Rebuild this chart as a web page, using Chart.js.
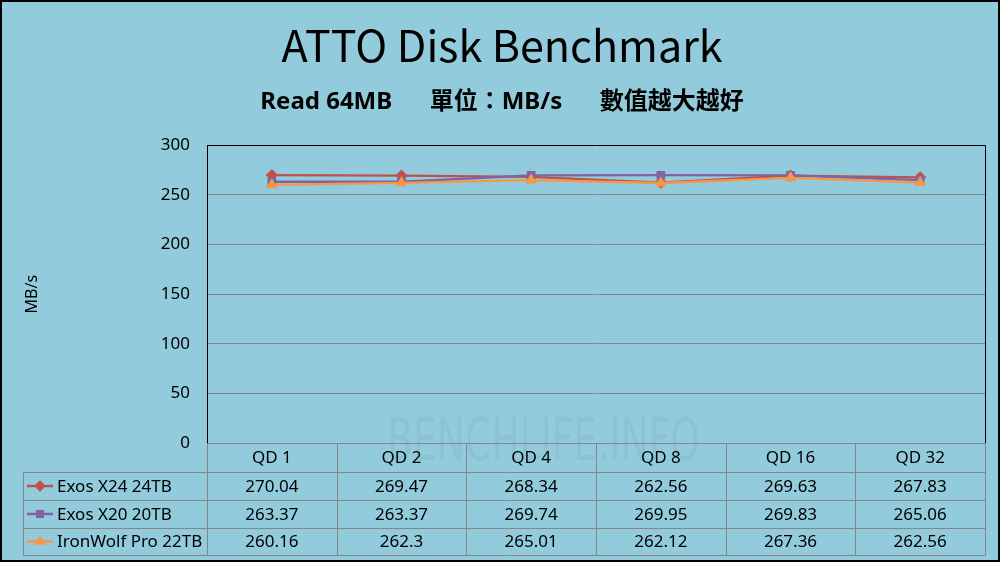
<!DOCTYPE html>
<html>
<head>
<meta charset="utf-8">
<script src="https://cdn.jsdelivr.net/npm/chart.js@4/dist/chart.umd.min.js"></script>
<style>
    html, body { margin: 0; padding: 0; background: #92CCDC; }
    canvas { display: block; }
</style>
</head>
<body>
<canvas id="atto-chart" width="1000" height="562"></canvas>
<script>
const categories = ["QD 1", "QD 2", "QD 4", "QD 8", "QD 16", "QD 32"];
const seriesNames = ["Exos X24 24TB", "Exos X20 20TB", "IronWolf Pro 22TB"];
const exosX24 = [270.04, 269.47, 268.34, 262.56, 269.63, 267.83];
const exosX20 = [263.37, 263.37, 269.74, 269.95, 269.83, 265.06];
const ironWolf = [260.16, 262.3, 265.01, 262.12, 267.36, 262.56];
const yTicks = [0, 50, 100, 150, 200, 250, 300];

const textFont = "'Noto Sans', 'Noto Sans CJK TC', sans-serif";
const cjkFont = "'Noto Sans CJK TC', 'Noto Sans', sans-serif";
const gridColor = "#868686";

// background, frame, watermark
const backgroundPlugin = {
    id: "background",
    beforeDraw: (chart) => {
        const ctx = chart.ctx;
        ctx.save();
        ctx.fillStyle = "#92CCDC";
        ctx.fillRect(0, 0, chart.width, chart.height);
        ctx.restore();
    },
    beforeDatasetsDraw: (chart) => {
        const ctx = chart.ctx;
        ctx.save();
        ctx.fillStyle = "rgba(120, 165, 180, 0.22)";
        ctx.font = "58px 'Liberation Sans Narrow', 'DejaVu Sans Condensed', sans-serif";
        ctx.textBaseline = "alphabetic";
        ctx.fillText("BENCHLIFE.INFO", 387, 460, 313);
        ctx.restore();
    }
};

// data table under the plot, aligned on the x scale
const tablePlugin = {
    id: "dataTable",
    afterDraw: (chart) => {
        const ctx = chart.ctx;
        const area = chart.chartArea;
        const x = chart.scales.x;
        const half = (v) => Math.round(v) + 0.5;

        const tableLeft = 23;
        const top = area.bottom;
        const rows = [top, top + 29, top + 57, top + 85, top + 112];

        const edges = [area.left];
        for (let i = 0; i < categories.length - 1; i++) {
            edges.push((x.getPixelForValue(i) + x.getPixelForValue(i + 1)) / 2);
        }
        edges.push(area.right);

        ctx.save();

        // plot frame top / right
        ctx.strokeStyle = "#000";
        ctx.lineWidth = 1;
        ctx.beginPath();
        ctx.moveTo(half(area.left), half(area.top));
        ctx.lineTo(half(area.right), half(area.top));
        ctx.lineTo(half(area.right), half(area.bottom));
        ctx.stroke();

        ctx.strokeStyle = gridColor;
        ctx.beginPath();
        ctx.moveTo(half(area.left), half(rows[0]));
        ctx.lineTo(half(area.right), half(rows[0]));
        for (let r = 1; r < rows.length; r++) {
            ctx.moveTo(half(tableLeft), half(rows[r]));
            ctx.lineTo(half(area.right), half(rows[r]));
        }
        ctx.moveTo(half(tableLeft), half(rows[1]));
        ctx.lineTo(half(tableLeft), half(rows[4]));
        edges.forEach(e => {
            ctx.moveTo(half(e), half(rows[0]));
            ctx.lineTo(half(e), half(rows[4]));
        });
        ctx.stroke();

        ctx.fillStyle = "#000";
        ctx.font = "17px " + textFont;
        ctx.textAlign = "center";
        ctx.textBaseline = "middle";
        categories.forEach((c, i) => {
            ctx.fillText(c, (edges[i] + edges[i + 1]) / 2, (rows[0] + rows[1]) / 2 + 1);
        });

        chart.data.datasets.forEach((ds, r) => {
            const cy = (rows[r + 1] + rows[r + 2]) / 2 + 1;
            ds.data.forEach((v, i) => {
                ctx.textAlign = "center";
                ctx.fillText(String(v), (edges[i] + edges[i + 1]) / 2, cy);
            });

            // legend key
            ctx.strokeStyle = ds.borderColor;
            ctx.lineWidth = 2.5;
            ctx.beginPath();
            ctx.moveTo(27, cy - 1);
            ctx.lineTo(53, cy - 1);
            ctx.stroke();
            Chart.helpers.drawPoint(ctx, {
                pointStyle: ds.pointStyle,
                radius: 4,
                borderWidth: 1
            }, 40, cy - 1);
            ctx.fillStyle = ds.borderColor;
            ctx.fill();

            ctx.fillStyle = "#000";
            ctx.textAlign = "left";
            ctx.fillText(seriesNames[r], 57, cy);
        });

        // outer frame
        ctx.strokeStyle = "#000";
        ctx.lineWidth = 2;
        ctx.strokeRect(1, 1, chart.width - 2, chart.height - 2);
        ctx.restore();
    }
};

const makeSet = (label, data, color, pointStyle, order) => ({
    label,
    data,
    order,
    borderColor: color,
    backgroundColor: color,
    pointBackgroundColor: color,
    pointBorderColor: color,
    borderWidth: 2.3,
    pointStyle,
    pointRadius: 4.5,
    tension: 0
});

const ctx = document.getElementById("atto-chart").getContext("2d");

new Chart(ctx, {
    type: "line",
    data: {
        labels: categories,
        datasets: [
            makeSet(seriesNames[0], exosX24, "#C0504D", "rectRot", 2),
            makeSet(seriesNames[1], exosX20, "#8064A2", "rect", 1),
            makeSet(seriesNames[2], ironWolf, "#F79646", "triangle", 0)
        ]
    },
    options: {
        responsive: false,
        animation: false,
        devicePixelRatio: 1,
        layout: {
            padding: { left: 19, right: 15, top: 0, bottom: 119 }
        },
        plugins: {
            legend: { display: false },
            tooltip: { enabled: false },
            title: {
                display: true,
                text: "ATTO Disk Benchmark",
                color: "#000",
                font: { family: cjkFont, size: 43, weight: "normal", lineHeight: 1.2 },
                padding: { top: 20, bottom: 0 }
            },
            subtitle: {
                display: true,
                text: "Read 64MB      單位：MB/s      數值越大越好",
                color: "#000",
                font: { family: textFont, size: 24, weight: "bold", lineHeight: 1.2 },
                padding: { top: 16, bottom: 29 }
            }
        },
        scales: {
            x: {
                display: false,
                offset: true
            },
            y: {
                min: yTicks[0],
                max: yTicks[yTicks.length - 1],
                afterFit: (scale) => { scale.width = 188; },
                afterBuildTicks: (scale) => { scale.ticks = yTicks.map(v => ({ value: v })); },
                ticks: {
                    color: "#000",
                    font: { family: textFont, size: 17 },
                    padding: 17
                },
                grid: {
                    color: gridColor,
                    drawTicks: false
                },
                border: { color: "#000", width: 1 },
                title: {
                    display: true,
                    text: "MB/s",
                    color: "#000",
                    font: { family: textFont, size: 16 },
                    padding: { top: 4, bottom: 4 }
                }
            }
        }
    },
    plugins: [backgroundPlugin, tablePlugin]
});
</script>
</body>
</html>
